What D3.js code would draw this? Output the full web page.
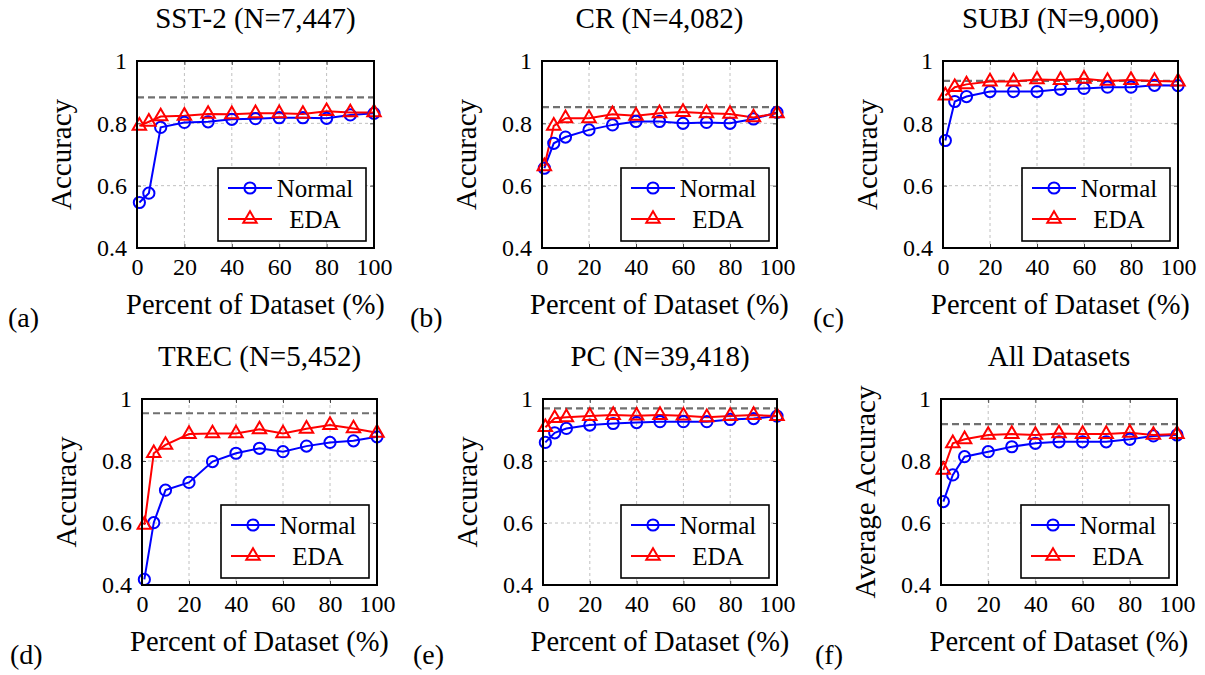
<!DOCTYPE html>
<html>
<head>
<meta charset="utf-8">
<script src="https://cdn.jsdelivr.net/npm/d3@7.9.0/dist/d3.min.js"></script>
<style>
  body { margin: 0; background: #fff; }
  svg { display: block; font-family: 'Liberation Serif', 'Times New Roman', 'DejaVu Serif', serif; }
</style>
</head>
<body>
<svg id="chart" width="1205" height="675"></svg>
<script>
// percent of training set used
const percents = [1, 5, 10, 20, 30, 40, 50, 60, 70, 80, 90, 100];
const xTicks = [0, 20, 40, 60, 80, 100];
const yTicks = [0.4, 0.6, 0.8, 1];

const titles = ['SST-2 (N=7,447)', 'CR (N=4,082)', 'SUBJ (N=9,000)',
  'TREC (N=5,452)', 'PC (N=39,418)', 'All Datasets'];
const panelLabels = ['(a)', '(b)', '(c)', '(d)', '(e)', '(f)'];
const yLabels = ['Accuracy', 'Accuracy', 'Accuracy', 'Accuracy', 'Accuracy', 'Average Accuracy'];

const normalSST2 = [0.546, 0.576, 0.787, 0.803, 0.805, 0.813, 0.815, 0.818, 0.818, 0.816, 0.827, 0.832];
const edaSST2 = [0.792, 0.805, 0.822, 0.824, 0.830, 0.829, 0.832, 0.832, 0.830, 0.839, 0.835, 0.835];
const normalCR = [0.656, 0.736, 0.756, 0.779, 0.795, 0.806, 0.806, 0.800, 0.803, 0.800, 0.814, 0.835];
const edaCR = [0.662, 0.792, 0.816, 0.816, 0.829, 0.824, 0.832, 0.836, 0.832, 0.830, 0.819, 0.832];
const normalSUBJ = [0.745, 0.870, 0.886, 0.902, 0.902, 0.902, 0.909, 0.912, 0.916, 0.916, 0.922, 0.921];
const edaSUBJ = [0.889, 0.916, 0.925, 0.934, 0.934, 0.941, 0.939, 0.943, 0.936, 0.939, 0.936, 0.934];
const normalTREC = [0.418, 0.601, 0.706, 0.731, 0.798, 0.825, 0.841, 0.830, 0.848, 0.860, 0.865, 0.878];
const edaTREC = [0.594, 0.825, 0.852, 0.887, 0.889, 0.889, 0.902, 0.889, 0.904, 0.916, 0.905, 0.891];
const normalPC = [0.860, 0.891, 0.905, 0.916, 0.921, 0.924, 0.927, 0.927, 0.927, 0.934, 0.937, 0.945];
const edaPC = [0.909, 0.938, 0.941, 0.945, 0.948, 0.946, 0.948, 0.946, 0.941, 0.945, 0.948, 0.945];
const normalAll = [0.669, 0.755, 0.814, 0.830, 0.846, 0.857, 0.862, 0.862, 0.862, 0.870, 0.881, 0.884];
const edaAll = [0.771, 0.857, 0.870, 0.884, 0.887, 0.884, 0.889, 0.887, 0.887, 0.891, 0.884, 0.887];

// dashed reference line (full-data accuracy)
const fullRef = [0.883, 0.852, 0.936, 0.954, 0.970, 0.919];

const normalSeries = [normalSST2, normalCR, normalSUBJ, normalTREC, normalPC, normalAll];
const edaSeries = [edaSST2, edaCR, edaSUBJ, edaTREC, edaPC, edaAll];

// plot-box placement of each panel
const boxes = [
  { left: 137, top: 61, w: 237, h: 187, labelX: 8 },
  { left: 542, top: 61, w: 235, h: 187, labelX: 410 },
  { left: 943, top: 61, w: 235, h: 187, labelX: 813 },
  { left: 142, top: 399, w: 235, h: 186, labelX: 10 },
  { left: 543, top: 399, w: 234, h: 186, labelX: 413 },
  { left: 941, top: 399, w: 236, h: 186, labelX: 815 }
];

const svg = d3.select('#chart');
const blue = '#0000ff';
const red = '#ff0000';
const triangle = d3.symbol().type(d3.symbolTriangle).size(78);
const markR = 5.6;
const sw = 2;

titles.forEach((title, i) => {
  const b = boxes[i];
  const x = d3.scaleLinear().domain([0, 100]).range([b.left, b.left + b.w]);
  const y = d3.scaleLinear().domain([0.4, 1]).range([b.top + b.h, b.top]);
  const g = svg.append('g');

  // grid
  g.selectAll('.vgrid')
    .data(xTicks.slice(1, -1))
    .join('line')
    .attr('x1', (d) => x(d)).attr('x2', (d) => x(d))
    .attr('y1', b.top).attr('y2', b.top + b.h)
    .attr('stroke', '#c0c0c0').attr('stroke-width', 1).attr('stroke-dasharray', '3,3');
  g.selectAll('.hgrid')
    .data(yTicks.slice(1, -1))
    .join('line')
    .attr('x1', b.left).attr('x2', b.left + b.w)
    .attr('y1', (d) => y(d)).attr('y2', (d) => y(d))
    .attr('stroke', '#c0c0c0').attr('stroke-width', 1).attr('stroke-dasharray', '3,3');

  // axes with inward ticks
  const xAxis = g.append('g')
    .attr('transform', `translate(0,${b.top + b.h})`)
    .call(d3.axisBottom(x).tickValues(xTicks).tickSize(-4).tickPadding(10).tickFormat(d3.format('d')));
  const xAxisTop = g.append('g')
    .attr('transform', `translate(0,${b.top})`)
    .call(d3.axisTop(x).tickValues(xTicks).tickSize(-4).tickFormat(''));
  const yAxis = g.append('g')
    .attr('transform', `translate(${b.left},0)`)
    .call(d3.axisLeft(y).tickValues(yTicks).tickSize(-4).tickPadding(10)
      .tickFormat((d) => (d === 1 ? '1' : d3.format('.1f')(d))));
  const yAxisRight = g.append('g')
    .attr('transform', `translate(${b.left + b.w},0)`)
    .call(d3.axisRight(y).tickValues(yTicks).tickSize(-4).tickFormat(''));

  [xAxis, xAxisTop, yAxis, yAxisRight].forEach((a) => {
    a.select('.domain').remove();
    a.selectAll('.tick line').attr('stroke', '#444').attr('stroke-width', 1);
    a.selectAll('text')
      .attr('font-family', "'Liberation Serif', 'Times New Roman', serif")
      .attr('font-size', 24)
      .attr('fill', '#000');
  });
  xAxis.selectAll('text').attr('dy', '0.71em');

  // reference line
  g.append('line')
    .attr('x1', b.left).attr('x2', b.left + b.w)
    .attr('y1', y(fullRef[i])).attr('y2', y(fullRef[i]))
    .attr('stroke', '#707070').attr('stroke-width', 2.2).attr('stroke-dasharray', '7,4');

  const line = d3.line().x((d) => x(d[0])).y((d) => y(d[1]));
  const normal = percents.map((p, k) => [p, normalSeries[i][k]]);
  const eda = percents.map((p, k) => [p, edaSeries[i][k]]);

  g.append('path').datum(normal).attr('d', line)
    .attr('fill', 'none').attr('stroke', blue).attr('stroke-width', sw);
  g.append('path').datum(eda).attr('d', line)
    .attr('fill', 'none').attr('stroke', red).attr('stroke-width', sw);

  g.selectAll('.circ').data(normal).join('circle')
    .attr('cx', (d) => x(d[0])).attr('cy', (d) => y(d[1])).attr('r', markR)
    .attr('fill', 'none').attr('stroke', blue).attr('stroke-width', sw);
  g.selectAll('.tri').data(eda).join('path')
    .attr('d', triangle)
    .attr('transform', (d) => `translate(${x(d[0])},${y(d[1])})`)
    .attr('fill', 'none').attr('stroke', red).attr('stroke-width', sw);

  // plot frame
  g.append('rect')
    .attr('x', b.left).attr('y', b.top).attr('width', b.w).attr('height', b.h)
    .attr('fill', 'none').attr('stroke', '#000').attr('stroke-width', 2);

  // legend
  const lw = 148, lh = 73;
  const lx = b.left + b.w - 8 - lw;
  const ly = b.top + b.h - 7 - lh;
  const legend = g.append('g').attr('transform', `translate(${lx},${ly})`);
  legend.append('rect').attr('width', lw).attr('height', lh)
    .attr('fill', '#fff').attr('stroke', '#000').attr('stroke-width', 1.6);
  const entries = [
    { name: 'Normal', color: blue, mark: 'circle', cy: 20 },
    { name: 'EDA', color: red, mark: 'tri', cy: 51 }
  ];
  entries.forEach((e) => {
    legend.append('line').attr('x1', 10).attr('x2', 54).attr('y1', e.cy).attr('y2', e.cy)
      .attr('stroke', e.color).attr('stroke-width', sw);
    if (e.mark === 'circle') {
      legend.append('circle').attr('cx', 32).attr('cy', e.cy).attr('r', markR)
        .attr('fill', 'none').attr('stroke', e.color).attr('stroke-width', sw);
    } else {
      legend.append('path').attr('d', triangle).attr('transform', `translate(32,${e.cy})`)
        .attr('fill', 'none').attr('stroke', e.color).attr('stroke-width', sw);
    }
    legend.append('text').attr('x', 97).attr('y', e.cy).attr('dy', '0.35em')
      .attr('text-anchor', 'middle').attr('font-size', 25).text(e.name);
  });

  // texts
  g.append('text')
    .attr('x', b.left + b.w / 2).attr('y', b.top - 33)
    .attr('text-anchor', 'middle').attr('font-size', 29).text(title);
  g.append('text')
    .attr('x', b.left + b.w / 2).attr('y', b.top + b.h + 66)
    .attr('text-anchor', 'middle').attr('font-size', 28.5).text('Percent of Dataset (%)');
  g.append('text')
    .attr('transform', `translate(${b.left - 76},${b.top + b.h / 2}) rotate(-90)`)
    .attr('dy', '0.35em')
    .attr('text-anchor', 'middle').attr('font-size', 29).text(yLabels[i]);
  g.append('text')
    .attr('x', b.labelX).attr('y', b.top + b.h + 79)
    .attr('font-size', 28).text(panelLabels[i]);
});
</script>
</body>
</html>
